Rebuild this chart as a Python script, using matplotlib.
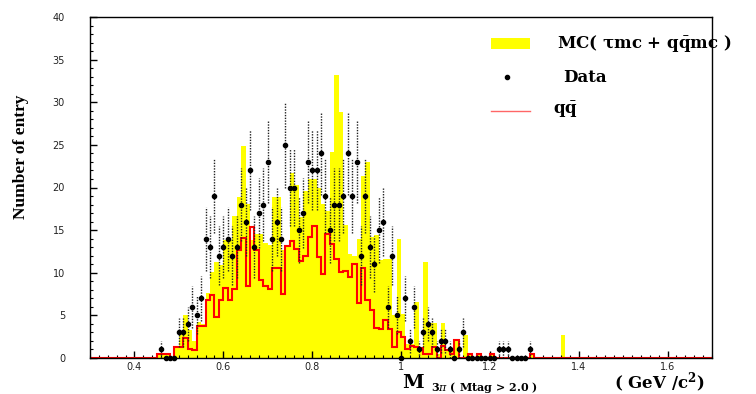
import numpy as np
import matplotlib.pyplot as plt
from matplotlib.ticker import MultipleLocator
from matplotlib.patches import Rectangle
from matplotlib.lines import Line2D

plt.rcParams['mathtext.fontset'] = 'dejavuserif'

W, H = 756, 394
x_lo, x_hi, bin_w = 0.3, 1.7, 0.01
edges = np.round(np.arange(x_lo, x_hi + bin_w / 2, bin_w), 3)

# MC (tau mc + qq mc), one value per 0.01 bin starting at 0.30
mc_counts = [
    0, 0, 0, 0, 0, 0, 0, 0, 0, 0,
    0, 0, 0, 0, 0, 0.6, 0.6, 0.6, 0, 1.3,
    3.0, 5.0, 3.3, 2.0, 4.2, 4.0, 7.6, 10.1, 11.3, 10.9,
    13.8, 13.8, 16.6, 18.9, 24.9, 18.1, 13.9, 14.6, 14.6, 13.5,
    13.3, 18.9, 18.9, 12.7, 13.0, 21.7, 20.3, 16.5, 19.6, 21.0,
    21.0, 20.0, 18.1, 17.3, 24.2, 33.2, 28.9, 15.6, 12.2, 12.0,
    14.0, 21.4, 23.0, 14.2, 14.4, 11.5, 11.6, 11.6, 5.0, 14.0,
    5.2, 1.6, 1.6, 6.6, 1.3, 11.3, 4.1, 4.1, 0.5, 4.1,
    1.0, 1.0, 2.2, 0, 2.7, 0.5, 0, 0.5, 0, 0,
    0.5, 0, 0, 0, 0, 0, 0, 0, 0, 0.5,
    0, 0, 0, 0, 0, 0, 2.7, 0, 0, 0,
    0, 0, 0, 0, 0, 0, 0, 0, 0, 0,
    0, 0, 0, 0, 0, 0, 0, 0, 0, 0,
    0, 0, 0, 0, 0, 0, 0, 0, 0, 0,
]

# qq continuum part
qq_counts = [
    0, 0, 0, 0, 0, 0, 0, 0, 0, 0,
    0, 0, 0, 0, 0, 0.5, 0.5, 0.5, 0, 1.3,
    1.3, 2.3, 1.0, 0.9, 3.8, 3.8, 6.8, 7.4, 4.8, 6.8,
    8.2, 6.8, 8.1, 12.7, 14.1, 8.5, 15.4, 12.7, 9.2, 8.4,
    8.1, 10.6, 10.6, 7.5, 13.1, 13.7, 12.8, 11.4, 12.0, 14.2,
    15.5, 11.8, 9.9, 14.6, 13.4, 11.6, 10.1, 10.2, 9.5, 11.0,
    6.5, 10.5, 6.8, 5.6, 3.5, 3.4, 4.5, 3.4, 1.3, 3.1,
    2.5, 1.0, 1.4, 1.3, 1.2, 0.5, 0.5, 1.3, 0, 1.4,
    0.9, 0.5, 2.1, 0, 0, 0.5, 0, 0.5, 0, 0,
    0.5, 0, 0, 0, 0, 0, 0, 0, 0, 0.5,
    0, 0, 0, 0, 0, 0, 0, 0, 0, 0,
    0, 0, 0, 0, 0, 0, 0, 0, 0, 0,
    0, 0, 0, 0, 0, 0, 0, 0, 0, 0,
    0, 0, 0, 0, 0, 0, 0, 0, 0, 0,
]

# data entries
data_counts = [
    0, 0, 0, 0, 0, 0, 0, 0, 0, 0,
    0, 0, 0, 0, 0, 0, 1, 0, 0, 0,
    3, 3, 4, 6, 5, 7, 14, 13, 19, 12,
    13, 14, 12, 13, 18, 16, 22, 13, 17, 18,
    23, 14, 16, 14, 25, 20, 20, 15, 17, 23,
    22, 22, 24, 19, 15, 18, 18, 19, 24, 19,
    23, 12, 19, 13, 11, 15, 16, 6, 12, 5,
    0, 7, 2, 6, 1, 3, 4, 3, 1, 2,
    2, 1, 0, 1, 3, 0, 0, 0, 0, 0,
    0, 0, 1, 1, 1, 0, 0, 0, 0, 1,
    0, 0, 0, 0, 0, 0, 0, 0, 0, 0,
    0, 0, 0, 0, 0, 0, 0, 0, 0, 0,
    0, 0, 0, 0, 0, 0, 0, 0, 0, 0,
    0, 0, 0, 0, 0, 0, 0, 0, 0, 0,
]

mc = np.array(mc_counts)
qq = np.array(qq_counts)
data = np.array(data_counts, dtype=float)
data_x = edges[:-1]

fig = plt.figure(figsize=(W / 100, H / 100), dpi=100)
ax = fig.add_axes([90 / W, 1 - 358 / H, (712 - 90) / W, (358 - 17) / H])

ax.stairs(mc, edges, fill=True, color='#ffff00', lw=0, zorder=1)
ax.stairs(qq, edges, color='#ff0000', lw=1.5, zorder=2)

nz = data > 0
eb = ax.errorbar(data_x[nz], data[nz], yerr=np.sqrt(data[nz]), fmt='none',
                 ecolor='#222222', elinewidth=1.0, zorder=3)
eb[2][0].set_linestyle((0, (1, 1)))
# markers only inside the filled data range (zeros there sit on the axis)
idx = np.nonzero(nz)[0]
shown = slice(idx[0], idx[-1] + 1)
ax.plot(data_x[shown], data[shown], 'o', ms=3, color='k', ls='none', zorder=4, clip_on=False)

ax.set_xlim(x_lo, x_hi)
ax.set_ylim(0, 40)
ax.xaxis.set_major_locator(MultipleLocator(0.2))
ax.xaxis.set_minor_locator(MultipleLocator(0.02))
ax.yaxis.set_major_locator(MultipleLocator(5))
ax.yaxis.set_minor_locator(MultipleLocator(1))
ax.xaxis.set_major_formatter(plt.FuncFormatter(lambda v, p: '1' if abs(v - 1) < 1e-6 else '%g' % v))
ax.tick_params(which='both', direction='in', top=False, right=False, colors='k')
ax.tick_params(which='major', length=5, width=1)
ax.tick_params(which='minor', length=2.5, width=0.8)
ax.tick_params(axis='y', which='major', pad=18, labelsize=7, labelcolor='#222222')
ax.tick_params(axis='x', which='major', pad=3, labelsize=7, labelcolor='#222222')
for s in ax.spines.values():
    s.set_linewidth(1)
    s.set_zorder(5)

def fx(x):
    return x / W

def fy(y):
    return 1 - y / H

serif = 'DejaVu Serif'
fig.text(fx(21), fy(157), 'Number of entry', rotation=90, ha='center', va='center',
         family='Liberation Serif', weight='bold', fontsize=12.5)

fig.text(fx(402), fy(388), 'M', family=serif, weight='bold', fontsize=14, ha='left', va='baseline')
fig.text(fx(431), fy(391), r'3$\pi$ ( Mtag > 2.0 )', family=serif, weight='bold', fontsize=8,
         ha='left', va='baseline')
fig.text(fx(614), fy(389), r'( GeV /c$^{\mathbf{2}}$)', family=serif, weight='bold', fontsize=12,
         ha='left', va='baseline')

# legend
fig.patches.append(Rectangle((fx(491), fy(49)), (530 - 491) / W, 11 / H, transform=fig.transFigure,
                             facecolor='#ffff00', edgecolor='none'))
fig.text(fx(557), fy(44), r'MC( $\mathbf{\tau}$mc + q$\mathbf{\bar{q}}$mc )', family=serif,
         weight='bold', fontsize=12, ha='left', va='center')
fig.lines.append(Line2D([fx(507)], [fy(77)], transform=fig.transFigure, marker='o', ms=3,
                        color='k', ls='none'))
fig.text(fx(563), fy(77), 'Data', family=serif, weight='bold', fontsize=12, ha='left', va='center')
fig.lines.append(Line2D([fx(491), fx(530)], [fy(111), fy(111)], transform=fig.transFigure,
                        color='#ff6666', lw=1))
fig.text(fx(553), fy(110), r'q$\mathbf{\bar{q}}$', family=serif, weight='bold', fontsize=12,
         ha='left', va='center')

fig.savefig('out.png', dpi=100)
